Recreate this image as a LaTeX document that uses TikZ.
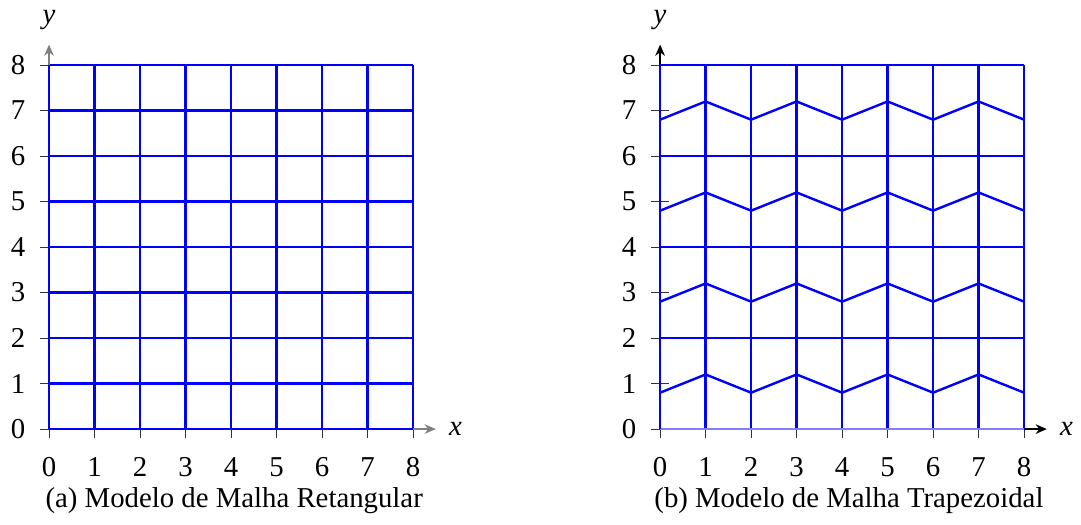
\documentclass[tikz,border=0pt]{standalone}
\usepackage{fontspec}
\setmainfont{Liberation Serif}
\usetikzlibrary{arrows.meta}
\begin{document}
\begin{tikzpicture}[x=1cm,y=1cm,
  font=\fontsize{18}{21}\selectfont,
  grid/.style={blue,line width=1.5pt},
  axisA/.style={gray,line width=1.2pt,-{Stealth[length=7pt,width=6pt]}},
  axisB/.style={black,line width=1.2pt,-{Stealth[length=7pt,width=6pt]}},
  tick/.style={black!80,line width=0.6pt},
  lab/.style={inner sep=1pt}]
\useasboundingbox (-1.077,-2.088) rectangle (22.68,9.43);
% ---------- left ----------
\begin{scope}
  \foreach \i in {0,...,8}{
    \draw[tick] (\i,-0.2) -- (\i,0.2);
    \draw[tick] (-0.2,\i) -- (0.2,\i);
    \node[lab] (xa\i) at (\i,-0.84) {\i};
    \node[lab] (ya\i) at (-0.68,\i) {\i};
  }
  \foreach \i in {0,...,8}{
    \draw[grid] (\i,0) -- (\i,8);
    \draw[grid] (0,\i) -- (8,\i);
  }
  \coordinate (xs1) at (8,0);
  \coordinate (ys1) at (0,8);
  \coordinate (xe1) at (8.5,0);
  \coordinate (ye1) at (0,8.45);
  \draw[axisA] (xs1) -- (xe1);
  \draw[axisA] (ys1) -- (ye1);
  \node[lab,anchor=west] (xl1) at (8.75,0) {\textit{x}};
  \node[lab] (yl1) at (0,9.0) {\textit{y}};
  \node (cap1) at (4.07,-1.57) {(a) Modelo de Malha Retangular};
\end{scope}
% ---------- right ----------
\begin{scope}[xshift=13.43cm]
  \foreach \i in {0,...,8}{
    \draw[tick] (\i,-0.2) -- (\i,0.2);
    \draw[tick] (-0.2,\i) -- (0.2,\i);
    \node[lab] (xb\i) at (\i,-0.84) {\i};
    \node[lab] (yb\i) at (-0.68,\i) {\i};
  }
  \coordinate (o2) at (0,0);
  \coordinate (xe2) at (8.5,0);
  \coordinate (ye2) at (0,8.45);
  \draw[axisB] (o2) -- (xe2);
  \draw[axisB] (o2) -- (ye2);
  \foreach \i in {1,...,8}{
    \draw[grid] (\i,0) -- (\i,8);
  }
  \foreach \i in {2,4,6,8}{
    \draw[grid] (0,\i) -- (8,\i);
  }
  \foreach \b in {0,2,4,6}{
    \draw[grid] (0,\b+0.8) -- (1,\b+1.2) -- (2,\b+0.8) -- (3,\b+1.2) -- (4,\b+0.8)
      -- (5,\b+1.2) -- (6,\b+0.8) -- (7,\b+1.2) -- (8,\b+0.8);
  }
  \draw[blue!50,line width=1.5pt] (0,0) -- (8,0);
  \draw[grid] (0,0) -- (0,8);
  \node[lab,anchor=west] (xl2) at (8.75,0) {\textit{x}};
  \node[lab] (yl2) at (0,9.0) {\textit{y}};
  \node (cap2) at (4.15,-1.57) {(b) Modelo de Malha Trapezoidal};
\end{scope}
\end{tikzpicture}
\end{document}
